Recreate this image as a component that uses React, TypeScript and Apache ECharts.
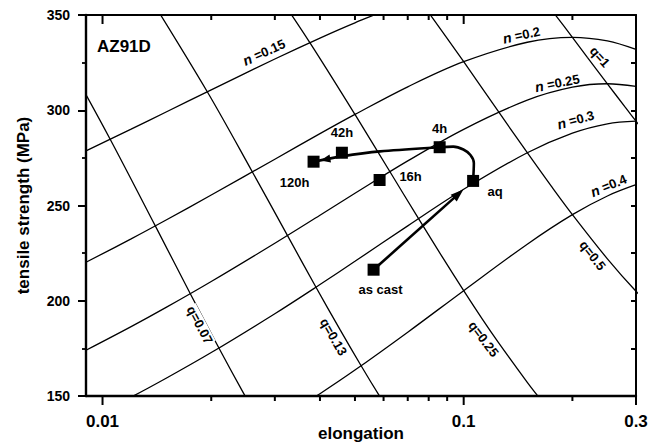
import React, { useEffect, useRef } from 'react';
import * as echarts from 'echarts';

// Tensile strength vs elongation map for AZ91D with iso-n and iso-q contours.
const FONT = '"Liberation Sans", Arial, Helvetica, sans-serif';

// constant strain-hardening exponent curves (n), sampled over the strain grid
const strainGrid = [0.009, 0.012, 0.015, 0.02, 0.03, 0.04, 0.05, 0.07, 0.1, 0.15, 0.2, 0.25, 0.3];
const sigmaN015 = [278.7, 290.1, 299.1, 310.7, 326.9, 337.9, 345.9, 356.7, 365.1, 369.1, 366.6, 360.5, 352.5];
const sigmaN020 = [220.2, 232.5, 242.4, 255.5, 274.3, 287.7, 297.8, 312.3, 325.5, 335.7, 338.3, 336.4, 331.9];
const sigmaN025 = [174.0, 186.4, 196.5, 210.1, 230.2, 244.9, 256.4, 273.4, 290.0, 305.3, 312.1, 313.9, 312.5];
const sigmaN030 = [137.5, 149.4, 159.3, 172.8, 193.2, 208.5, 220.7, 239.3, 258.5, 277.7, 288.0, 292.9, 294.3];
const sigmaN040 = [85.9, 96.0, 104.7, 116.8, 136.1, 151.2, 163.6, 183.5, 205.3, 229.7, 245.2, 255.0, 260.9];

// constant relative-ductility lines (q): [elongation, strength]
const qLine007 = [[0.0084, 318.5], [0.0105, 284.8], [0.014, 239.3], [0.0175, 203.7], [0.021, 175.2], [0.0245, 151.9], [0.028, 132.6]];
const qLine013 = [[0.013, 364.4], [0.0195, 309.7], [0.026, 267.6], [0.0325, 234.3], [0.039, 207.1], [0.0455, 184.7], [0.052, 165.9], [0.0585, 149.9], [0.065, 136.2]];
const qLine025 = [[0.03, 363.1], [0.0375, 335.5], [0.05, 297.8], [0.0625, 267.7], [0.075, 243.1], [0.0875, 222.6], [0.1, 205.3], [0.1125, 190.5], [0.125, 177.9], [0.15, 157.2], [0.1625, 148.7]];
const qLine050 = [[0.075, 358.7], [0.1, 325.5], [0.125, 299.1], [0.15, 277.7], [0.175, 260.0], [0.2, 245.2], [0.25, 222.0], [0.3, 205.0], [0.35, 192.6]];
const qLine100 = [[0.16, 362.3], [0.18, 349.7], [0.2, 338.3], [0.22, 327.8], [0.25, 313.9], [0.28, 301.6], [0.3, 294.3], [0.32, 287.4]];

// measured states of the alloy
const stages = ['as cast', 'aq', '4h', '16h', '42h', '120h'];
const stageElongation = [0.0563, 0.1062, 0.0858, 0.0585, 0.046, 0.0384];
const stageStrength = [216.3, 262.9, 280.6, 263.4, 277.7, 273.0];

// intermediate route points of the ageing path (aq -> 4h -> 42h -> 120h)
const ageingBendAfterAq = [[0.1067, 272.3], [0.1044, 276.5], [0.0998, 279.4], [0.0936, 280.9]];
const ageingBendAfter4h = [[0.0587, 278.4], [0.046, 275.8]];

// axis ticks
const xMajorTicks = [0.01, 0.1, 0.3];
const xMinorTicks = [0.02, 0.03, 0.04, 0.05, 0.06, 0.07, 0.08, 0.09, 0.2];
const xMin = 0.009;
const xMax = 0.3;
const yMin = 150;
const yMax = 350;

// contour annotations: text, elongation, strength, angle (deg, clockwise)
const contourLabels = [
  { text: '{i|n} =0.15', x: 0.028, y: 330.5, angle: -24, bg: false },
  { text: '{i|n} =0.2', x: 0.1445, y: 339.5, angle: -12, bg: false },
  { text: '{i|n} =0.25', x: 0.1816, y: 314.3, angle: -11, bg: false },
  { text: '{i|n} =0.3', x: 0.2042, y: 295.0, angle: -15, bg: false },
  { text: '{i|n} =0.4', x: 0.2518, y: 260.5, angle: -22, bg: false },
  { text: 'q=1', x: 0.2383, y: 328.0, angle: 48, bg: true },
  { text: 'q=0.07', x: 0.0186, y: 187.3, angle: 62, bg: true },
  { text: 'q=0.13', x: 0.0436, y: 181.0, angle: 60, bg: true },
  { text: 'q=0.25', x: 0.1135, y: 179.9, angle: 53, bg: true },
  { text: 'q=0.5', x: 0.2275, y: 223.8, angle: 52, bg: true },
];

const stageLabelOffset: Record<string, number[]> = {
  'as cast': [7, 20],
  aq: [22, 11],
  '4h': [0, -19],
  '16h': [31, -3],
  '42h': [0, -20],
  '120h': [-19, 21],
};

function zipCurve(values: number[]) {
  return strainGrid.map((e, i) => [e, values[i]]);
}

function contourSeries(data: number[][]) {
  return {
    type: 'line',
    data,
    smooth: 0.35,
    symbol: 'none',
    silent: true,
    z: 2,
    clip: true,
    lineStyle: { color: '#000', width: 1.3 },
  };
}

// tick marks of the log axes as small filled bars placed through the axis scale:
// outward below the plot, inward from the top frame
function tickSeries(values: number[], len: number) {
  return {
    type: 'custom',
    silent: true,
    z: 7,
    data: values.map((v) => [v, yMin, v, yMax]),
    encode: { x: [0, 2], y: [1, 3] },
    renderItem: (_p: any, api: any) => {
      const b = api.coord([api.value(0), api.value(1)]);
      const t = api.coord([api.value(2), api.value(3)]);
      const w = 1;
      return {
        type: 'group',
        children: [
          {
            type: 'polygon',
            shape: { points: [[b[0] - w, b[1]], [b[0] + w, b[1]], [b[0] + w, b[1] + len], [b[0] - w, b[1] + len]] },
            style: { fill: '#000' },
          },
          {
            type: 'polygon',
            shape: { points: [[t[0] - w, t[1]], [t[0] + w, t[1]], [t[0] + w, t[1] + len], [t[0] - w, t[1] + len]] },
            style: { fill: '#000' },
          },
        ],
      };
    },
  };
}

function arrowSeries(from: number[], to: number[], gap: number, headLen: number, headHalf: number, drawShaft: boolean) {
  return {
    type: 'custom',
    silent: true,
    z: 6,
    data: [[from[0], from[1], to[0], to[1]]],
    encode: { x: [0, 2], y: [1, 3] },
    renderItem: (_p: any, api: any) => {
      const p0 = api.coord([api.value(0), api.value(1)]);
      const p1 = api.coord([api.value(2), api.value(3)]);
      const dx = p1[0] - p0[0];
      const dy = p1[1] - p0[1];
      const d = Math.sqrt(dx * dx + dy * dy) || 1;
      const ux = dx / d;
      const uy = dy / d;
      const tip = [p1[0] - ux * gap, p1[1] - uy * gap];
      const base = [tip[0] - ux * headLen, tip[1] - uy * headLen];
      const children: any[] = [];
      if (drawShaft) {
        children.push({
          type: 'line',
          shape: { x1: p0[0], y1: p0[1], x2: base[0] + ux * 2, y2: base[1] + uy * 2 },
          style: { stroke: '#000', lineWidth: 2.6 },
        });
      }
      children.push({
        type: 'polygon',
        shape: {
          points: [
            tip,
            [base[0] - uy * headHalf, base[1] + ux * headHalf],
            [base[0] + uy * headHalf, base[1] - ux * headHalf],
          ],
        },
        style: { fill: '#000' },
      });
      return { type: 'group', children };
    },
  };
}

export default function App() {
  const ref = useRef<HTMLDivElement>(null);

  useEffect(() => {
    if (!ref.current) return;
    const chart = echarts.init(ref.current, null, { renderer: 'svg' });

    const pt = (i: number) => [stageElongation[i], stageStrength[i]];
    const ageingPath = [pt(1), ...ageingBendAfterAq, pt(2), ...ageingBendAfter4h, pt(5)];
    const lastBend = ageingBendAfter4h[ageingBendAfter4h.length - 1];

    const option: any = {
      animation: false,
      backgroundColor: '#fff',
      grid: { left: 86, right: 25, top: 15, bottom: 48, outerBoundsMode: 'none', containLabel: false },
      xAxis: [
        {
          type: 'log',
          logBase: 10,
          min: xMin,
          max: xMax,
          position: 'bottom',
          name: 'elongation',
          nameLocation: 'middle',
          nameGap: 29,
          nameMoveOverlap: false,
          nameTextStyle: { color: '#000', fontFamily: FONT, fontWeight: 'bold', fontSize: 17 },
          axisLine: { show: true, lineStyle: { color: '#000', width: 2.4 } },
          axisTick: { show: false },
          splitLine: { show: false },
          axisLabel: {
            color: '#000',
            fontFamily: FONT,
            fontWeight: 'bold',
            fontSize: 17,
            margin: 17,
            showMinLabel: true,
            showMaxLabel: true,
            formatter: (v: number) => (v < 0.0095 ? '' : String(Number(v.toPrecision(2)))),
          },
        },
        {
          type: 'log',
          logBase: 10,
          min: xMin,
          max: xMax,
          position: 'top',
          axisLine: { show: true, lineStyle: { color: '#000', width: 2 } },
          axisTick: { show: false },
          axisLabel: { show: false },
          splitLine: { show: false },
        },
      ],
      yAxis: [
        {
          type: 'value',
          min: yMin,
          max: yMax,
          interval: 50,
          position: 'left',
          name: 'tensile strength (MPa)',
          nameLocation: 'middle',
          nameGap: 54,
          nameMoveOverlap: false,
          nameTextStyle: { color: '#000', fontFamily: FONT, fontWeight: 'bold', fontSize: 17 },
          axisLine: { show: true, lineStyle: { color: '#000', width: 2.4 } },
          axisTick: { show: true, inside: false, length: 8, lineStyle: { color: '#000', width: 2 } },
          minorTick: { show: true, splitNumber: 2, length: 4, lineStyle: { color: '#000', width: 1.8 } },
          splitLine: { show: false },
          axisLabel: { color: '#000', fontFamily: FONT, fontWeight: 'bold', fontSize: 14, margin: 16 },
        },
        {
          type: 'value',
          min: yMin,
          max: yMax,
          interval: 50,
          position: 'right',
          axisLine: { show: true, lineStyle: { color: '#000', width: 2 } },
          axisTick: { show: true, inside: true, length: 5, lineStyle: { color: '#000', width: 2 } },
          minorTick: { show: true, splitNumber: 2, length: 5, lineStyle: { color: '#000', width: 2 } },
          splitLine: { show: false },
          axisLabel: { show: false },
        },
      ],
      graphic: [
        {
          type: 'text',
          left: 97,
          top: 38,
          z: 100,
          style: { text: 'AZ91D', fill: '#000', fontFamily: FONT, fontWeight: 'bold', fontSize: 17 },
        },
      ],
      series: [
        contourSeries(zipCurve(sigmaN015)),
        contourSeries(zipCurve(sigmaN020)),
        contourSeries(zipCurve(sigmaN025)),
        contourSeries(zipCurve(sigmaN030)),
        contourSeries(zipCurve(sigmaN040)),
        contourSeries(qLine007),
        contourSeries(qLine013),
        contourSeries(qLine025),
        contourSeries(qLine050),
        contourSeries(qLine100),
        // contour annotations
        {
          type: 'custom',
          silent: true,
          z: 4,
          data: contourLabels.map((l, i) => [l.x, l.y, i]),
          renderItem: (_p: any, api: any) => {
            const l = contourLabels[api.value(2)];
            const p = api.coord([api.value(0), api.value(1)]);
            return {
              type: 'text',
              x: p[0],
              y: p[1],
              rotation: (-l.angle * Math.PI) / 180,
              style: {
                text: l.text,
                fill: '#000',
                fontFamily: FONT,
                fontWeight: 'bold',
                fontSize: 13,
                align: 'center',
                verticalAlign: 'middle',
                backgroundColor: l.bg ? '#fff' : 'transparent',
                padding: l.bg ? [0, 1] : 0,
                rich: {
                  i: { fontStyle: 'italic', fontWeight: 'bold', fontSize: 14, fontFamily: FONT, fill: '#000' },
                },
              },
            };
          },
        },
        // ageing path
        {
          type: 'line',
          data: ageingPath,
          smooth: 0.3,
          symbol: 'none',
          silent: true,
          z: 6,
          lineStyle: { color: '#000', width: 2.6 },
        },
        arrowSeries(lastBend, pt(5), 7, 10, 4, false),
        arrowSeries(pt(0), pt(1), 13, 13, 4.5, true),
        tickSeries(xMajorTicks, 9),
        tickSeries(xMinorTicks, 5),
        {
          type: 'scatter',
          symbol: 'rect',
          symbolSize: 12,
          silent: true,
          z: 8,
          itemStyle: { color: '#000', opacity: 1 },
          data: stages.map((s, i) => ({
            name: s,
            value: [stageElongation[i], stageStrength[i]],
            label: {
              show: true,
              position: 'inside',
              offset: stageLabelOffset[s],
              formatter: s,
              color: '#000',
              textBorderWidth: 0,
              fontFamily: FONT,
              fontWeight: 'bold',
              fontSize: 13,
            },
          })),
        },
      ],
    };

    chart.setOption(option);
    return () => chart.dispose();
  }, []);

  return (
    <div
      ref={ref}
      style={{ position: 'absolute', left: 0, top: 0, width: 661, height: 444, background: '#fff' }}
    />
  );
}
